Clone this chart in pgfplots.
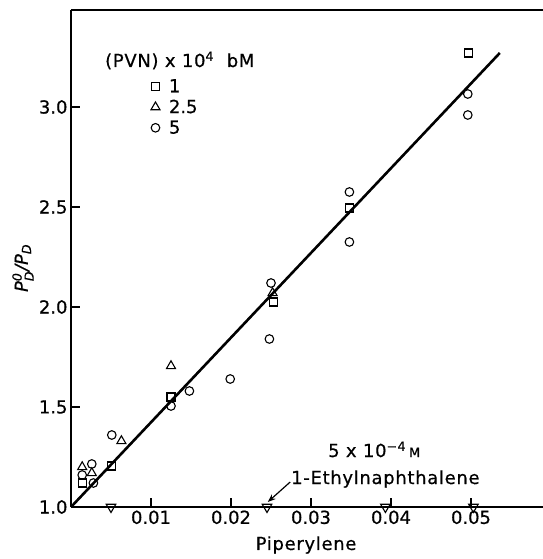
\documentclass[border=0pt]{standalone}
\usepackage{fontspec}
\setmainfont{DejaVu Sans}[FakeBold=0.6]
\newfontfamily\wide{DejaVu Sans}[FakeBold=0.6, LetterSpace=4]
\usepackage{amsmath}
\usepackage{pgfplots}
\pgfplotsset{compat=1.18}
\usetikzlibrary{arrows.meta}
\begin{document}
\begin{tikzpicture}[font=\fontsize{18}{21.5}\selectfont]
\begin{axis}[
    at={(0,0)}, anchor=south west,
    scale only axis, width=472bp, height=497bp,
    xmin=0, xmax=0.059, ymin=1, ymax=3.485,
    axis x line=box, axis y line=left,
    axis line style={-, line width=1.6bp},
    xtick={0.01,0.02,0.03,0.04,0.05},
    ytick={1,1.5,2,2.5,3},
    xtick pos=left, ytick pos=left, tick align=inside,
    major tick length=9bp,
    tick style={line width=1.2bp, black},
    scaled x ticks=false,
    /pgf/number format/assume math mode=true,
    xticklabel style={/pgf/number format/.cd, fixed, precision=2},
    yticklabel style={/pgf/number format/.cd, fixed, fixed zerofill, precision=1},
    xlabel={\wide Piperylene},
    xlabel style={at={(axis description cs:0.498,-0.0765)}, anchor=center},
    ylabel={{\itshape P$_{\textit{D}}^{\textit{0}}$/P$_{\textit{D}}$}},
    ylabel style={at={(axis description cs:-0.1017,0.481)}, anchor=center},
    clip=false,
    legend style={draw=none, fill=none, at={(axis cs:0.0096,3.16)}, anchor=north west,
        column sep=7bp, row sep=2bp},
    legend cell align=left,
]
% fitted line
\addplot[forget plot, no marks, line width=2.6bp] coordinates {(0,1) (0.0536,3.27)};

% (PVN) = 1
\addplot[only marks, mark=square, mark size=4bp, line width=1.1bp, mark options={fill=white}] coordinates {
    (0.0014,1.12) (0.0051,1.205) (0.0125,1.55) (0.0253,2.025) (0.0348,2.495) (0.0497,3.27)
};
\addlegendentry{1}

% (PVN) = 2.5
\addplot[only marks, mark=triangle, mark size=5.2bp, line width=1.1bp, mark options={fill=white}] coordinates {
    (0.0014,1.20) (0.0026,1.17) (0.0063,1.33) (0.0125,1.705) (0.0252,2.07)
};
\addlegendentry{2.5}

% (PVN) = 5
\addplot[only marks, mark=o, mark size=4.3bp, line width=1.1bp, mark options={fill=white}] coordinates {
    (0.0026,1.215) (0.0014,1.16) (0.0028,1.12) (0.0051,1.36) (0.0125,1.505)
    (0.0148,1.58) (0.0199,1.64) (0.025,2.12) (0.0248,1.84) (0.0348,2.575)
    (0.0348,2.325) (0.0496,3.065) (0.0496,2.96)
};
\addlegendentry{5}

% 1-ethylnaphthalene
\addplot[forget plot, only marks, mark=triangle, mark size=5.5bp, line width=1.1bp, mark options={rotate=180, fill=white}] coordinates {
    (0.005,1) (0.0245,1) (0.0393,1) (0.0503,1)
};

\node[anchor=base] at (axis cs:0.0136,3.20) {\wide (PVN) x 10\textsuperscript{4} \ bM};
\node[anchor=base] at (axis cs:0.0379,1.25) {\wide 5 x 10\textsuperscript{−4}\,{\fontsize{13}{13}\selectfont M}};
\node[anchor=base] at (axis cs:0.0393,1.115) {\wide 1-Ethylnaphthalene};
\draw[-{Stealth[length=8bp,width=6bp]}, line width=1.2bp] (axis cs:0.0274,1.125) -- (axis cs:0.0246,1.025);
\end{axis}
\pgfresetboundingbox
\useasboundingbox (-71bp,-52bp) rectangle (472bp,507bp);
\end{tikzpicture}
\end{document}
